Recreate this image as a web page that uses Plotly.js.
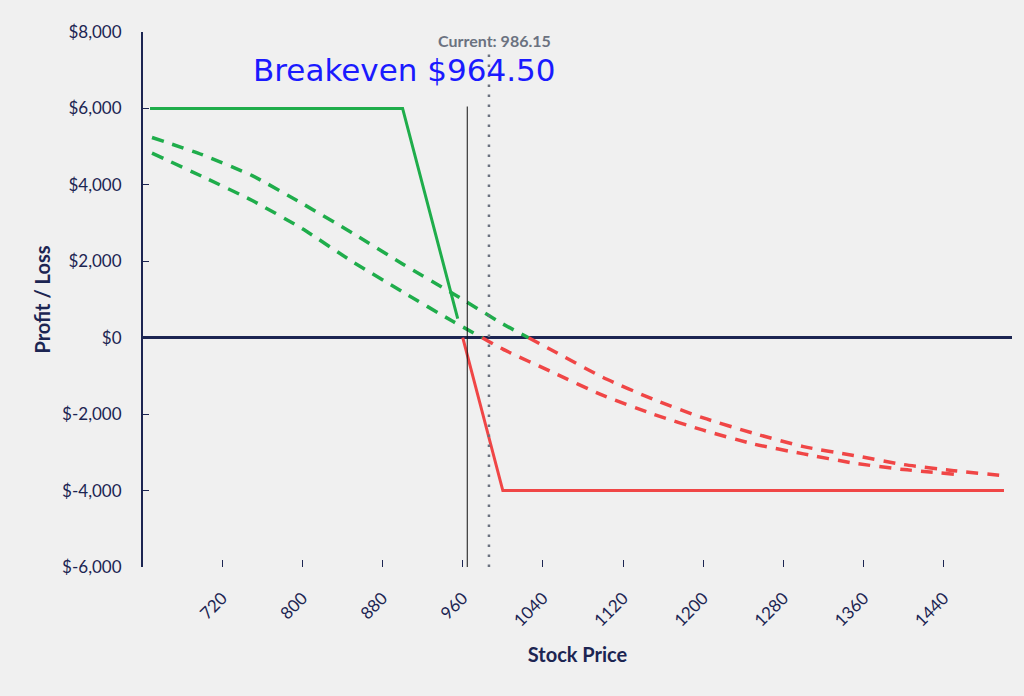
<!DOCTYPE html>
<html>
<head>
<meta charset="utf-8">
<script src="https://cdn.plot.ly/plotly-3.0.1.min.js"></script>
<style>
  html, body { margin: 0; padding: 0; background: #f0f0f0; }
  #chart { width: 1024px; height: 696px; }
</style>
</head>
<body>
<div id="chart"></div>
<script>
// expiry payoff, profit side and loss side
const expiryProfitX = [648, 900, 955]
const expiryProfitY = [6000, 6000, 500]
const expiryLossX = [960, 1000, 1500]
const expiryLossY = [0, -4000, -4000]

// theoretical value curves before expiry
const curveAX = [650, 700, 750, 800, 850, 900, 950, 1000, 1050, 1100, 1150, 1200, 1250, 1300, 1350, 1400, 1450, 1500]
const curveAY = [5240, 4790, 4240, 3510, 2740, 1930, 1160, 360, -340, -1040, -1610, -2100, -2500, -2850, -3080, -3320, -3480, -3610]
const curveBX = [650, 700, 750, 800, 850, 900, 950, 1000, 1050, 1100, 1150, 1200, 1250, 1300, 1350, 1400, 1450]
const curveBY = [4830, 4220, 3590, 2850, 1990, 1200, 430, -300, -910, -1510, -2000, -2420, -2780, -3040, -3280, -3450, -3570]

const breakeven = 964.50
const currentPrice = 986.15

const xTicks = [720, 800, 880, 960, 1040, 1120, 1200, 1280, 1360, 1440]
const yTicks = [-6000, -4000, -2000, 0, 2000, 4000, 6000, 8000]
const yTickText = ["$-6,000", "$-4,000", "$-2,000", "$0", "$2,000", "$4,000", "$6,000", "$8,000"]

const GREEN = "#1fad4b"
const RED = "#f04646"
const NAVY = "#1c2552"

// split a curve where it crosses zero so the profit part is green and the loss part red
function splitAtZero(xs, ys) {
    const pos = { x: [], y: [] }
    const neg = { x: [], y: [] }
    for (let i = 0; i < xs.length; i++) {
        if (ys[i] >= 0) {
            pos.x.push(xs[i]); pos.y.push(ys[i])
        } else {
            neg.x.push(xs[i]); neg.y.push(ys[i])
        }
        if (i < xs.length - 1 && ys[i] >= 0 && ys[i + 1] < 0) {
            const t = ys[i] / (ys[i] - ys[i + 1])
            const xc = xs[i] + t * (xs[i + 1] - xs[i])
            pos.x.push(xc); pos.y.push(0)
            neg.x.push(xc); neg.y.push(0)
        }
    }
    return [pos, neg]
}

const dashed = (part, color) => ({
    type: "scatter",
    mode: "lines",
    x: part.x,
    y: part.y,
    line: { color: color, width: 3.5, dash: "12px,9px", shape: "spline", smoothing: 0.6 },
    hoverinfo: "skip",
    showlegend: false
})

const [aPos, aNeg] = splitAtZero(curveAX, curveAY)
const [bPos, bNeg] = splitAtZero(curveBX, curveBY)

const data = [
    dashed(aPos, GREEN), dashed(aNeg, RED),
    dashed(bPos, GREEN), dashed(bNeg, RED),
    {
        type: "scatter", mode: "lines",
        x: expiryProfitX, y: expiryProfitY,
        line: { color: GREEN, width: 3 },
        showlegend: false
    },
    {
        type: "scatter", mode: "lines",
        x: expiryLossX, y: expiryLossY,
        line: { color: RED, width: 3 },
        showlegend: false
    }
]

const layout = {
    width: 1024,
    height: 696,
    margin: { l: 143, r: 12, t: 32, b: 129 },
    paper_bgcolor: "#f0f0f0",
    plot_bgcolor: "#f0f0f0",
    font: { family: "Lato, sans-serif", color: NAVY, size: 16 },
    showlegend: false,
    xaxis: {
        range: [641, 1508],
        tickvals: xTicks,
        tickangle: -45,
        ticks: "inside",
        ticklen: 7,
        tickcolor: NAVY,
        ticklabelstandoff: 17,
        showgrid: false,
        zeroline: false,
        showline: false,
        tickfont: { size: 17, color: NAVY },
        title: { text: "<b>Stock Price</b>", font: { size: 20, color: NAVY }, standoff: 18 }
    },
    yaxis: {
        range: [-6000, 8000],
        tickvals: yTicks,
        ticktext: yTickText,
        ticks: "inside",
        ticklen: 6,
        tickcolor: NAVY,
        showline: true,
        linecolor: NAVY,
        linewidth: 2,
        showgrid: false,
        zeroline: true,
        zerolinecolor: NAVY,
        zerolinewidth: 2.5,
        ticklabelstandoff: 16,
        tickfont: { size: 17, color: NAVY },
        title: { text: "<b>Profit / Loss</b>", font: { size: 20, color: NAVY }, standoff: 6 }
    },
    shapes: [
        {
            type: "line", xref: "x", yref: "y",
            x0: breakeven, x1: breakeven, y0: -6000, y1: 6050,
            line: { color: "#111111", width: 1 }
        },
        {
            type: "line", xref: "x", yref: "y",
            x0: currentPrice, x1: currentPrice, y0: -6000, y1: 7450,
            line: { color: "#6b7280", width: 2.5, dash: "2.5px,7.5px" }
        }
    ],
    annotations: [
        {
            xref: "x", yref: "paper",
            x: currentPrice + 6, y: 0.985,
            xanchor: "center", yanchor: "middle",
            text: "<b>Current: 986.15</b>",
            showarrow: false,
            font: { family: "Lato, sans-serif", size: 16, color: "#6b7280" }
        },
        {
            xref: "paper", yref: "paper",
            x: 0.3, y: 0.929,
            xanchor: "center", yanchor: "middle",
            text: "Breakeven $" + breakeven.toFixed(2),
            showarrow: false,
            font: { family: "DejaVu Sans, sans-serif", size: 31, color: "#1a1aff" }
        }
    ]
}

const config = { responsive: false, displayModeBar: false, staticPlot: true }

Plotly.newPlot("chart", data, layout, config)
</script>
</body>
</html>
